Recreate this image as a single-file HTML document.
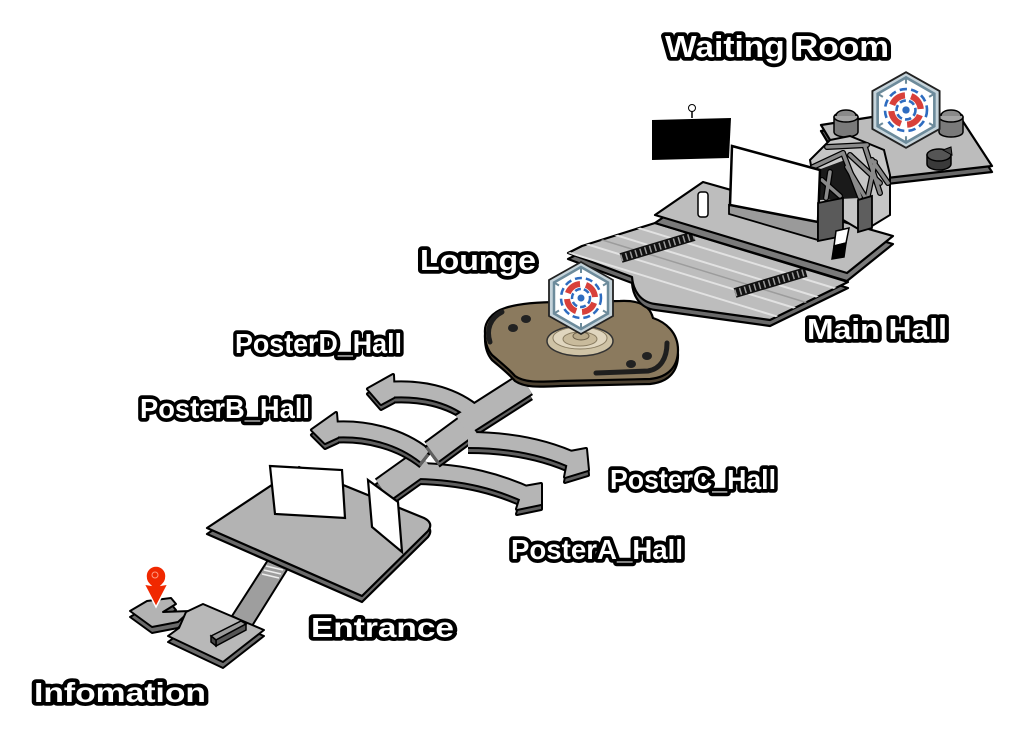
<!DOCTYPE html>
<html><head><meta charset="utf-8"><style>
html,body{margin:0;padding:0;background:#fff;}
svg{display:block}
.lbl{font-family:"Liberation Sans",Arial,sans-serif;font-weight:bold;fill:#fff;stroke:#000;stroke-width:7.5;stroke-linejoin:round;paint-order:stroke fill;}
</style></head><body>
<svg width="1024" height="740" viewBox="0 0 1024 740" xmlns="http://www.w3.org/2000/svg">
<defs>
 <path id="infoA" d="M130,611 L147,601 L171,598 L176,604 L163,612 L190,611 L178,622 L152,627 Z"/>
 <path id="infoB" d="M168,636 L179,628 L186,612 L203,604 L264,630 L223,662 Z"/>
 <path id="ent" d="M207,528 L299,467 L424,518 Q434,523 428,531 L362,596 Z"/>
 <path id="floor" d="M568,253 L582,246 L655,223 L848,282 L770,320 L655,304 C640,302 633,290 632,277 Z"/>
 <path id="upper" d="M655,215 L703,182 L893,236 L847,273 Z"/>
 <path id="lounge" d="M485,333 C484,322 492,312 505,308 C520,303 540,302 560,302 L620,301 C640,300 650,306 653,318 C665,322 678,332 678,350 C678,365 670,377 650,379 L560,381 C540,382 525,383 515,376 C508,368 500,362 492,355 C486,348 485,340 485,333 Z"/>
 <path id="wait" d="M821,125 L872,117 L962,120 L992,166 L887,178 L845,160 L830,140 Z"/>
 <clipPath id="fc"><use href="#floor"/></clipPath>
 <g id="icon">
  <polygon points="0,-36 32,-18 32,18 0,36 -32,18 -32,-18" fill="#c5d3da" stroke="#222" stroke-width="1.8"/>
  <polygon points="0,-31 27,-15.5 27,15.5 0,31 -27,15.5 -27,-15.5" fill="#fff" stroke="#6d8b9b" stroke-width="2.5"/>
  <g stroke="#6d8b9b" stroke-width="2">
   <line x1="0" y1="-31" x2="0" y2="-25"/>
   <line x1="0" y1="31" x2="0" y2="25"/>
   <line x1="27" y1="-15.5" x2="22" y2="-12.5"/>
   <line x1="-27" y1="-15.5" x2="-22" y2="-12.5"/>
   <line x1="27" y1="15.5" x2="22" y2="12.5"/>
   <line x1="-27" y1="15.5" x2="-22" y2="12.5"/>
  </g>
  <circle r="20" fill="none" stroke="#2e6cc0" stroke-width="2.5" stroke-dasharray="7 4"/>
  <circle r="14" fill="none" stroke="#d8403a" stroke-width="6" stroke-dasharray="16 6" transform="rotate(20)"/>
  <circle r="9" fill="none" stroke="#2e6cc0" stroke-width="2.5" stroke-dasharray="6 3"/>
  <circle r="3.5" fill="#2e6cc0"/>
 </g>
</defs>

<!-- ===== Poster halls ===== -->
<!-- group 1: A arm + link -->
<g fill="none" stroke-linejoin="round">
 <g transform="translate(0,5)">
  <path d="M418,471 C465,472 500,482 530,496" stroke="#000" stroke-width="18"/>
  <path d="M425,460 L383,490" stroke="#000" stroke-width="28"/>
  <path d="M524,487 L541,484 L541,504 L517,509 Z" fill="#000" stroke="#000" stroke-width="4"/>
  <path d="M418,471 C465,472 500,482 530,496" stroke="#5f5f5f" stroke-width="14"/>
  <path d="M425,460 L383,490" stroke="#5f5f5f" stroke-width="24"/>
  <path d="M524,487 L541,484 L541,504 L517,509 Z" fill="#5f5f5f"/>
 </g>
 <path d="M418,471 C465,472 500,482 530,496" stroke="#000" stroke-width="18"/>
 <path d="M425,460 L383,490" stroke="#000" stroke-width="28"/>
 <path d="M524,487 L541,484 L541,504 L517,509 Z" fill="#000" stroke="#000" stroke-width="4"/>
 <path d="M418,471 C465,472 500,482 530,496" stroke="#b5b5b5" stroke-width="14"/>
 <path d="M425,460 L383,490" stroke="#b5b5b5" stroke-width="24"/>
 <path d="M524,487 L541,484 L541,504 L517,509 Z" fill="#b5b5b5"/>
</g>
<!-- group 2: B arm -->
<g fill="none" stroke-linejoin="round">
 <g transform="translate(0,5)">
  <path d="M330,430 C365,427 400,436 425,456" stroke="#000" stroke-width="18"/>
  <path d="M336,413 L312,430 L325,443 L338,437 Z" fill="#000" stroke="#000" stroke-width="4"/>
  <path d="M330,430 C365,427 400,436 425,456" stroke="#5f5f5f" stroke-width="14"/>
  <path d="M336,413 L312,430 L325,443 L338,437 Z" fill="#5f5f5f"/>
 </g>
 <path d="M330,430 C365,427 400,436 425,456" stroke="#000" stroke-width="18"/>
 <path d="M336,413 L312,430 L325,443 L338,437 Z" fill="#000" stroke="#000" stroke-width="4"/>
 <path d="M330,430 C365,427 400,436 425,456" stroke="#b5b5b5" stroke-width="14"/>
 <path d="M336,413 L312,430 L325,443 L338,437 Z" fill="#b5b5b5"/>
</g>
<!-- group 3: D arm, junction, trunk, C arm -->
<g fill="none" stroke-linejoin="round">
 <g transform="translate(0,5)">
  <path d="M386,390 C420,387 450,394 472,411" stroke="#000" stroke-width="18"/>
  <path d="M432,452 L470,424" stroke="#000" stroke-width="26"/>
  <path d="M462,425 L526,384" stroke="#000" stroke-width="26"/>
  <path d="M468,440 C515,440 550,449 577,462" stroke="#000" stroke-width="18"/>
  <path d="M393,375 L368,389 L381,404 L394,397 Z" fill="#000" stroke="#000" stroke-width="4"/>
  <path d="M570,452 L586,449 L588,470 L565,477 Z" fill="#000" stroke="#000" stroke-width="4"/>
  <path d="M386,390 C420,387 450,394 472,411" stroke="#5f5f5f" stroke-width="14"/>
  <path d="M432,452 L470,424" stroke="#5f5f5f" stroke-width="22"/>
  <path d="M462,425 L526,384" stroke="#5f5f5f" stroke-width="22"/>
  <path d="M468,440 C515,440 550,449 577,462" stroke="#5f5f5f" stroke-width="14"/>
  <path d="M393,375 L368,389 L381,404 L394,397 Z" fill="#5f5f5f"/>
  <path d="M570,452 L586,449 L588,470 L565,477 Z" fill="#5f5f5f"/>
 </g>
 <path d="M386,390 C420,387 450,394 472,411" stroke="#000" stroke-width="18"/>
 <path d="M432,452 L470,424" stroke="#000" stroke-width="26"/>
 <path d="M462,425 L526,384" stroke="#000" stroke-width="26"/>
 <path d="M468,440 C515,440 550,449 577,462" stroke="#000" stroke-width="18"/>
 <path d="M393,375 L368,389 L381,404 L394,397 Z" fill="#000" stroke="#000" stroke-width="4"/>
 <path d="M570,452 L586,449 L588,470 L565,477 Z" fill="#000" stroke="#000" stroke-width="4"/>
 <path d="M386,390 C420,387 450,394 472,411" stroke="#b5b5b5" stroke-width="14"/>
 <path d="M432,452 L470,424" stroke="#b5b5b5" stroke-width="22"/>
 <path d="M462,425 L526,384" stroke="#b5b5b5" stroke-width="22"/>
 <path d="M468,440 C515,440 550,449 577,462" stroke="#b5b5b5" stroke-width="14"/>
 <path d="M393,375 L368,389 L381,404 L394,397 Z" fill="#b5b5b5"/>
 <path d="M570,452 L586,449 L588,470 L565,477 Z" fill="#b5b5b5"/>
</g>

<!-- ===== Info / entrance strip ===== -->
<path d="M232,616 L268,560 L290,565 L252,626 Z" fill="#9e9e9e" stroke="#000" stroke-width="2"/>
<g stroke="#eee" stroke-width="1.6">
 <line x1="262" y1="574" x2="279" y2="578"/>
 <line x1="264" y1="570" x2="281" y2="574"/>
 <line x1="266" y1="566" x2="283" y2="570"/>
</g>

<!-- Entrance -->
<use href="#ent" transform="translate(0,6)" fill="#6b6b6b" stroke="#000" stroke-width="2.2" stroke-linejoin="round"/>
<use href="#ent" fill="#b3b3b3" stroke="#000" stroke-width="2.2" stroke-linejoin="round"/>
<path d="M270,466 L342,470 L345,518 L275,514 Z" fill="#fff" stroke="#000" stroke-width="2.2"/>
<path d="M368,480 L398,502 L402,552 L372,527 Z" fill="#fff" stroke="#000" stroke-width="2.2"/>

<!-- Information -->
<use href="#infoA" transform="translate(0,6)" fill="#6b6b6b" stroke="#000" stroke-width="2" stroke-linejoin="round"/>
<use href="#infoA" fill="#b3b3b3" stroke="#000" stroke-width="2" stroke-linejoin="round"/>
<use href="#infoB" transform="translate(0,6)" fill="#6b6b6b" stroke="#000" stroke-width="2" stroke-linejoin="round"/>
<use href="#infoB" fill="#b8b8b8" stroke="#000" stroke-width="2" stroke-linejoin="round"/>
<path d="M211,636 L241,621 L246,624 L216,640 Z" fill="#9a9a9a" stroke="#000" stroke-width="1.5"/>
<path d="M216,640 L246,624 L246,630 L216,646 Z" fill="#555" stroke="#000" stroke-width="1.5"/>
<path d="M211,636 L216,640 L216,646 L211,642 Z" fill="#444" stroke="#000" stroke-width="1.5"/>
<!-- red pin -->
<path d="M156,566 C162,566 166,571 166,576 C166,581 164,583 162,585 L168,584 L156,607 L144,584 L150,585 C148,583 146,581 146,576 C146,571 150,566 156,566 Z" fill="#f02800" stroke="#fff" stroke-width="1.5"/>
<circle cx="155" cy="575" r="3" fill="none" stroke="#ff9a80" stroke-width="1"/>

<!-- ===== Lounge ===== -->
<use href="#lounge" transform="translate(0,5)" fill="#4d4232" stroke="#000" stroke-width="2.2"/>
<use href="#lounge" fill="#8b7a5e" stroke="#000" stroke-width="2.2"/>
<path d="M490,342 C486,330 490,318 502,312" fill="none" stroke="#1e1e1e" stroke-width="5" stroke-linecap="round"/>
<path d="M596,373 L648,371 C660,369 667,359 667,343" fill="none" stroke="#1e1e1e" stroke-width="5" stroke-linecap="round"/>
<g fill="#222">
 <ellipse cx="513" cy="328" rx="5" ry="4"/>
 <ellipse cx="526" cy="319" rx="5" ry="4"/>
 <ellipse cx="631" cy="364" rx="5" ry="4"/>
 <ellipse cx="647" cy="356" rx="5" ry="4"/>
</g>
<ellipse cx="580" cy="341" rx="33" ry="15" fill="#cfc3a6" stroke="#333" stroke-width="1.5"/>
<ellipse cx="580" cy="338" rx="27" ry="11" fill="#e0d6bf" stroke="#8a7d62" stroke-width="1"/>
<ellipse cx="580" cy="339" rx="17" ry="7" fill="#c9bb9c" stroke="#8a7d62" stroke-width="1"/>
<ellipse cx="581" cy="336" rx="8" ry="4" fill="#b8a989" stroke="#6b5f48" stroke-width="1"/>

<!-- ===== Main hall ===== -->
<use href="#floor" transform="translate(0,6)" fill="#6a6a6a" stroke="#000" stroke-width="2.2" stroke-linejoin="round"/>
<use href="#floor" fill="#bdbdbd" stroke="#000" stroke-width="2.2" stroke-linejoin="round"/>
<g clip-path="url(#fc)" stroke-width="2">
 <line x1="560" y1="204" x2="860" y2="296" stroke="#e2e2e2"/>
 <line x1="560" y1="218" x2="860" y2="310" stroke="#e2e2e2"/>
 <line x1="560" y1="227" x2="860" y2="319" stroke="#9c9c9c" stroke-width="1.5"/>
 <line x1="560" y1="236" x2="860" y2="328" stroke="#e2e2e2"/>
 <line x1="560" y1="250" x2="860" y2="342" stroke="#e2e2e2"/>
</g>
<line x1="621" y1="258" x2="694" y2="236" stroke="#111" stroke-width="10"/>
<line x1="621" y1="258" x2="694" y2="236" stroke="#9a9a9a" stroke-width="7" stroke-dasharray="1.5 3.5"/>
<line x1="735" y1="293" x2="806" y2="272" stroke="#111" stroke-width="10"/>
<line x1="735" y1="293" x2="806" y2="272" stroke="#9a9a9a" stroke-width="7" stroke-dasharray="1.5 3.5"/>

<!-- Waiting room platform -->
<use href="#wait" transform="translate(0,6)" fill="#6a6a6a" stroke="#000" stroke-width="2.2" stroke-linejoin="round"/>
<use href="#wait" fill="#bcbcbc" stroke="#000" stroke-width="2.2" stroke-linejoin="round"/>
<!-- chairs -->
<path d="M834,117 L834,132 A12,5 0 0 0 858,132 L858,117 Z" fill="#7a7a7a" stroke="#000" stroke-width="1.5"/>
<ellipse cx="846" cy="117" rx="12" ry="5" fill="#a5a5a5" stroke="#000" stroke-width="1.5"/>
<path d="M836,116 C836,108 856,108 856,116" fill="#8a8a8a" stroke="#000" stroke-width="1.5"/>
<path d="M939,117 L939,132 A12,5 0 0 0 963,132 L963,117 Z" fill="#7a7a7a" stroke="#000" stroke-width="1.5"/>
<ellipse cx="951" cy="117" rx="12" ry="5" fill="#a5a5a5" stroke="#000" stroke-width="1.5"/>
<path d="M941,116 C941,108 961,108 961,116" fill="#8a8a8a" stroke="#000" stroke-width="1.5"/>
<path d="M927,155 L927,164 A12,6 0 0 0 951,164 L951,155 Z" fill="#3a3a3a" stroke="#000" stroke-width="1.5"/>
<ellipse cx="939" cy="155" rx="12" ry="6" fill="#555" stroke="#000" stroke-width="1.5"/>
<path d="M943,150 L951,147 L952,155 Z" fill="#444" stroke="#000" stroke-width="1"/>

<!-- upper platform -->
<use href="#upper" transform="translate(0,8)" fill="#7a7a7a" stroke="#000" stroke-width="2.2" stroke-linejoin="round"/>
<use href="#upper" fill="#bdbdbd" stroke="#000" stroke-width="2.2" stroke-linejoin="round"/>

<!-- truss structure -->
<path d="M810,160 L830,140 L850,136 L884,150 L890,175 L890,215 L872,226 L860,230 L818,205 Z" fill="#c6c6c6" stroke="#000" stroke-width="2"/>
<path d="M818,170 L845,160 L860,198 L820,200 Z" fill="#1a1a1a"/>
<g stroke-linecap="round">
 <g stroke="#000" stroke-width="6">
  <line x1="813" y1="167" x2="843" y2="153"/>
  <line x1="827" y1="147" x2="867" y2="145"/>
  <line x1="843" y1="153" x2="860" y2="197"/>
  <line x1="850" y1="155" x2="880" y2="183"/>
  <line x1="865" y1="147" x2="880" y2="193"/>
  <line x1="847" y1="167" x2="868" y2="202"/>
  <line x1="872" y1="160" x2="888" y2="183"/>
  <line x1="875" y1="162" x2="867" y2="200"/>
  <line x1="822" y1="180" x2="840" y2="196"/>
  <line x1="830" y1="172" x2="826" y2="198"/>
 </g>
 <g stroke="#8a8a8a" stroke-width="3.5">
  <line x1="813" y1="167" x2="843" y2="153"/>
  <line x1="827" y1="147" x2="867" y2="145"/>
  <line x1="843" y1="153" x2="860" y2="197"/>
  <line x1="850" y1="155" x2="880" y2="183"/>
  <line x1="865" y1="147" x2="880" y2="193"/>
  <line x1="847" y1="167" x2="868" y2="202"/>
  <line x1="872" y1="160" x2="888" y2="183"/>
  <line x1="875" y1="162" x2="867" y2="200"/>
  <line x1="822" y1="180" x2="840" y2="196"/>
  <line x1="830" y1="172" x2="826" y2="198"/>
 </g>
</g>
<path d="M858,200 L872,196 L872,228 L858,232 Z" fill="#5e5e5e" stroke="#000" stroke-width="1.8"/>

<!-- screen -->
<path d="M729,205 L818,222 L818,240 L729,214 Z" fill="#9a9a9a" stroke="#000" stroke-width="1.8"/>
<path d="M732,146 L820,170 L818,222 L730,205 Z" fill="#fff" stroke="#000" stroke-width="2.5"/>
<path d="M818,203 L843,198 L843,236 L818,241 Z" fill="#5a5a5a" stroke="#000" stroke-width="1.8"/>
<!-- white cylinder -->
<rect x="698" y="192" width="10" height="25" rx="3" fill="#fff" stroke="#000" stroke-width="1.5"/>
<!-- sign -->
<path d="M836,231 L849,228 L846,243 L834,246 Z" fill="#fff" stroke="#000" stroke-width="1.5"/>
<path d="M834,246 L846,243 L844,257 L832,259 Z" fill="#000" stroke="#000" stroke-width="1.5"/>
<!-- black TV -->
<path d="M652,120 L731,118 L729,158 L652,160 Z" fill="#000"/>
<line x1="692" y1="118" x2="692" y2="111" stroke="#000" stroke-width="1.5"/>
<circle cx="692" cy="108" r="3.5" fill="#fff" stroke="#000" stroke-width="1"/>

<!-- icons -->
<use href="#icon" transform="translate(581,298)"/>
<use href="#icon" transform="translate(906,110) scale(1.05)"/>

<!-- labels -->
<text class="lbl" x="665" y="57" font-size="31" textLength="224" lengthAdjust="spacingAndGlyphs">Waiting Room</text>
<text class="lbl" x="420" y="270" font-size="29" textLength="116" lengthAdjust="spacingAndGlyphs">Lounge</text>
<text class="lbl" x="807" y="339" font-size="29" textLength="140" lengthAdjust="spacingAndGlyphs">Main Hall</text>
<text class="lbl" x="235" y="353" font-size="28" textLength="167" lengthAdjust="spacingAndGlyphs">PosterD_Hall</text>
<text class="lbl" x="140" y="418" font-size="28" textLength="170" lengthAdjust="spacingAndGlyphs">PosterB_Hall</text>
<text class="lbl" x="610" y="489" font-size="28" textLength="166" lengthAdjust="spacingAndGlyphs">PosterC_Hall</text>
<text class="lbl" x="511" y="559" font-size="28" textLength="172" lengthAdjust="spacingAndGlyphs">PosterA_Hall</text>
<text class="lbl" x="311" y="637" font-size="28" textLength="143" lengthAdjust="spacingAndGlyphs">Entrance</text>
<text class="lbl" x="34" y="702" font-size="28" textLength="172" lengthAdjust="spacingAndGlyphs">Infomation</text>
</svg>
</body></html>
